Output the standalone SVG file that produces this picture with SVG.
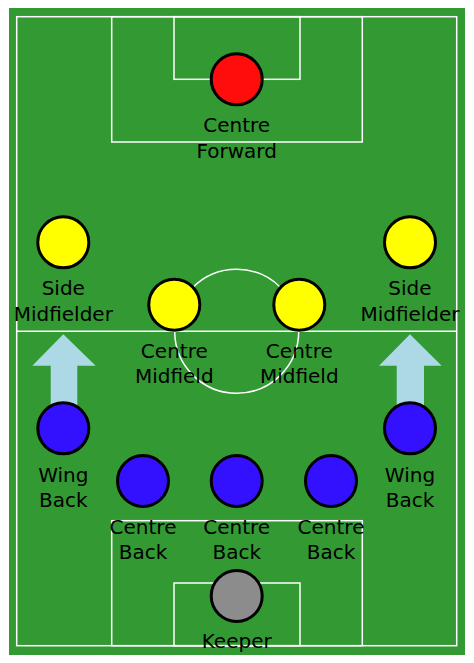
<svg xmlns="http://www.w3.org/2000/svg" width="474" height="663" viewBox="0 0 474 663">
<style>
.line{fill:none;stroke:#ffffff;stroke-width:1.5}
.p{stroke:#000;stroke-width:3}
.lbl{font-family:"DejaVu Sans",sans-serif;font-size:20px;fill:#000;text-anchor:middle}
.arrow{fill:#add8e6}
</style>
<rect x="0" y="0" width="474" height="663" fill="#ffffff"/>
<g id="pitch">
<rect x="9" y="8" width="456" height="647" fill="#339933"/>
<rect class="line" x="16.7" y="16.7" width="440" height="629"/>
<line class="line" x1="16.7" y1="331.3" x2="456.7" y2="331.3"/>
<circle class="line" cx="236.7" cy="331.3" r="62"/>
<rect class="line" x="111.7" y="16.7" width="250.6" height="125.3"/>
<rect class="line" x="174" y="16.7" width="126" height="62.6"/>
<rect class="line" x="111.7" y="520.7" width="250.6" height="125"/>
<rect class="line" x="174" y="583" width="126" height="62.7"/>
</g>
<g id="arrows">
<polygon class="arrow" points="63.3,334.3 95.7,365.7 77.3,365.7 77.3,410 50.7,410 50.7,365.7 32.3,365.7"/>
<polygon class="arrow" points="410,334.3 441.7,365.7 424,365.7 424,410 396.7,410 396.7,365.7 379,365.7"/>
</g>
<g id="centre-forward">
<circle class="p" cx="236.7" cy="79.3" r="25.5" fill="#ff0d0d"/>
<text class="lbl" x="236.7" y="132">Centre</text>
<text class="lbl" x="236.7" y="157.5">Forward</text>
</g>
<g id="side-mid-left">
<circle class="p" cx="63.3" cy="242.3" r="25.5" fill="#ffff00"/>
<text class="lbl" x="63.3" y="295">Side</text>
<text class="lbl" x="63.3" y="320.7">Midfielder</text>
</g>
<g id="side-mid-right">
<circle class="p" cx="410" cy="242.3" r="25.5" fill="#ffff00"/>
<text class="lbl" x="410" y="295">Side</text>
<text class="lbl" x="410" y="320.7">Midfielder</text>
</g>
<g id="centre-mid-left">
<circle class="p" cx="174.3" cy="304.7" r="25.5" fill="#ffff00"/>
<text class="lbl" x="174.3" y="357.7">Centre</text>
<text class="lbl" x="174.3" y="383.3">Midfield</text>
</g>
<g id="centre-mid-right">
<circle class="p" cx="299.3" cy="304.7" r="25.5" fill="#ffff00"/>
<text class="lbl" x="299.3" y="357.7">Centre</text>
<text class="lbl" x="299.3" y="383.3">Midfield</text>
</g>
<g id="wing-back-left">
<circle class="p" cx="63.3" cy="428.3" r="25.5" fill="#3311ff"/>
<text class="lbl" x="63.3" y="481.5">Wing</text>
<text class="lbl" x="63.3" y="507.3">Back</text>
</g>
<g id="wing-back-right">
<circle class="p" cx="410" cy="428.3" r="25.5" fill="#3311ff"/>
<text class="lbl" x="410" y="481.5">Wing</text>
<text class="lbl" x="410" y="507.3">Back</text>
</g>
<g id="centre-back-left">
<circle class="p" cx="143" cy="481" r="25.5" fill="#3311ff"/>
<text class="lbl" x="143" y="534">Centre</text>
<text class="lbl" x="143" y="559.3">Back</text>
</g>
<g id="centre-back-mid">
<circle class="p" cx="236.7" cy="481" r="25.5" fill="#3311ff"/>
<text class="lbl" x="236.7" y="534">Centre</text>
<text class="lbl" x="236.7" y="559.3">Back</text>
</g>
<g id="centre-back-right">
<circle class="p" cx="331" cy="481" r="25.5" fill="#3311ff"/>
<text class="lbl" x="331" y="534">Centre</text>
<text class="lbl" x="331" y="559.3">Back</text>
</g>
<g id="keeper">
<circle class="p" cx="236.7" cy="596" r="25.5" fill="#8c8c8c"/>
<text class="lbl" x="236.7" y="648">Keeper</text>
</g>
</svg>
